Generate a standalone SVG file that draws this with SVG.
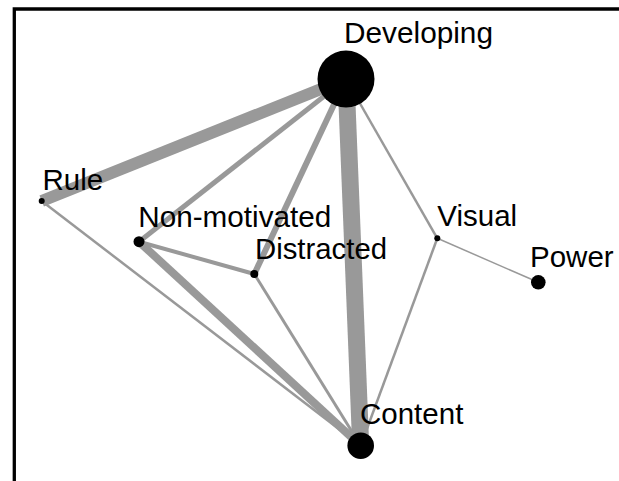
<svg xmlns="http://www.w3.org/2000/svg" width="619" height="481" viewBox="0 0 619 481">
<style>
.e{stroke:#999;fill:none;stroke-linecap:butt}
.n{fill:#000}
.t{font-family:"Liberation Sans",Arial,sans-serif;font-size:29.5px;fill:#000}
</style>
<rect width="619" height="481" fill="#fff"/>
<path d="M14.3,481 V9 H619" fill="none" stroke="#000" stroke-width="3.3"/>
<g id="edges">
<line class="e" x1="41.7" y1="201" x2="346" y2="79" stroke-width="12"/>
<line class="e" x1="346" y1="79" x2="360.7" y2="445.7" stroke-width="17"/>
<line class="e" x1="139" y1="241.7" x2="346" y2="79" stroke-width="5"/>
<line class="e" x1="254.3" y1="274" x2="346" y2="79" stroke-width="6"/>
<line class="e" x1="437.3" y1="238.3" x2="346" y2="79" stroke-width="2.5"/>
<line class="e" x1="41.7" y1="201" x2="360.7" y2="445.7" stroke-width="2.5"/>
<line class="e" x1="139" y1="241.7" x2="254.3" y2="274" stroke-width="4"/>
<line class="e" x1="139" y1="241.7" x2="360.7" y2="445.7" stroke-width="8"/>
<line class="e" x1="254.3" y1="274" x2="360.7" y2="445.7" stroke-width="3"/>
<line class="e" x1="437.3" y1="238.3" x2="360.7" y2="445.7" stroke-width="2.5"/>
<line class="e" x1="437.3" y1="238.3" x2="538.3" y2="282.3" stroke-width="1.5" stroke="#aaa"/>
</g>
<g id="developing"><circle class="n" cx="346" cy="79" r="28.5"/><text class="t" x="344" y="43" textLength="149" lengthAdjust="spacingAndGlyphs">Developing</text></g>
<g id="rule"><circle class="n" cx="41.7" cy="201" r="3"/><text class="t" x="42.5" y="190">Rule</text></g>
<g id="nonmotivated"><circle class="n" cx="139" cy="241.7" r="5.5"/><text class="t" x="138.3" y="227.3" textLength="193" lengthAdjust="spacingAndGlyphs">Non-motivated</text></g>
<g id="distracted"><circle class="n" cx="254.3" cy="274" r="4"/><text class="t" x="255" y="259.3" textLength="132" lengthAdjust="spacingAndGlyphs">Distracted</text></g>
<g id="visual"><circle class="n" cx="437.3" cy="238.3" r="3"/><text class="t" x="437.3" y="226">Visual</text></g>
<g id="power"><circle class="n" cx="538.3" cy="282.3" r="7.3"/><text class="t" x="530" y="266.7">Power</text></g>
<g id="content"><circle class="n" cx="360.7" cy="445.7" r="13.3"/><text class="t" x="360" y="424">Content</text></g>
</svg>
